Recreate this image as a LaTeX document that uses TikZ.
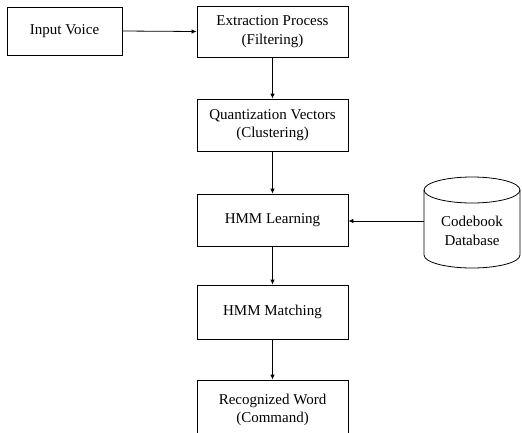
\documentclass[tikz,border=0pt]{standalone}
\usepackage{fontspec}
\setmainfont{Liberation Serif}
\usetikzlibrary{arrows.meta}
\begin{document}
\begin{tikzpicture}[x=1pt,y=-1pt,
  box/.style={draw=black,line width=0.8pt,rectangle,inner sep=0pt,align=center,
    font=\fontsize{15}{18.5}\selectfont,minimum width=151pt},
  conn/.style={draw=black,line width=0.8pt,-{Latex[length=5pt,width=4.5pt]}},
  dblabel/.style={inner sep=0pt,align=center,font=\fontsize{15}{18.5}\selectfont}]
\useasboundingbox (0,0) rectangle (522,432);
\node[box,minimum width=115pt,minimum height=48pt] (inp) at (64.5,31) {Input Voice};
\node[box,minimum height=51pt] (ext) at (272.5,31.5) {Extraction Process\\(Filtering)};
\node[box,minimum height=52pt] (quant) at (272.5,125) {Quantization Vectors\\(Clustering)};
\node[box,minimum height=52pt] (learn) at (272.5,220) {HMM Learning};
\node[box,minimum height=54pt] (match) at (272.5,312) {HMM Matching};
\node[box,minimum height=60pt] (rec) at (272.5,410) {Recognized Word\\(Command)};
% cylinder
\draw[line width=0.8pt,fill=white] (424,190) -- (424,255)
  arc[start angle=180,end angle=360,x radius=48pt,y radius=13pt] -- (520,190);
\draw[line width=0.8pt] (472,190) ellipse[x radius=48pt,y radius=13pt];
\node[dblabel] (db) at (472,231) {Codebook\\Database};
\coordinate (dbw) at (424,221);
\draw[conn] (inp.east) -- (ext.west);
\draw[conn] (ext.south) -- (quant.north);
\draw[conn] (quant.south) -- (learn.north);
\draw[conn] (learn.south) -- (match.north);
\draw[conn] (match.south) -- (rec.north);
\draw[conn] (dbw) -- (dbw -| learn.east);
\end{tikzpicture}
\end{document}
